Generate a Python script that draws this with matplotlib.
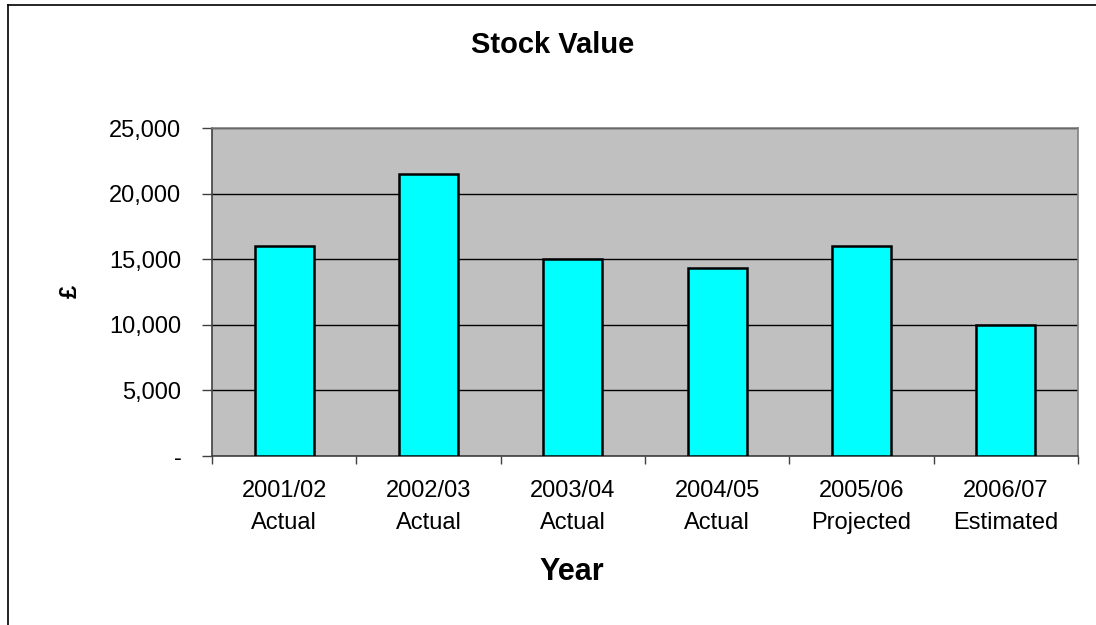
import matplotlib
matplotlib.use("Agg")
import matplotlib.pyplot as plt
from matplotlib.lines import Line2D

categories = ["2001/02\nActual", "2002/03\nActual", "2003/04\nActual",
              "2004/05\nActual", "2005/06\nProjected", "2006/07\nEstimated"]
values = [16000, 21500, 15000, 14300, 16000, 10000]
yticks = [0, 5000, 10000, 15000, 20000, 25000]
ytick_labels = ["-", "5,000", "10,000", "15,000", "20,000", "25,000"]

plt.rcParams['font.family'] = ['Liberation Sans', 'DejaVu Sans']

W, H = 1096, 625
fig = plt.figure(figsize=(W / 100, H / 100), dpi=100)
ax = fig.add_axes([212 / W, 1 - 456 / H, (1078 - 212) / W, (456 - 128) / H])
ax.set_facecolor("#c0c0c0")

x = list(range(len(categories)))
ax.bar(x, values, width=0.41, color="#00ffff", edgecolor="black", linewidth=1.8, zorder=3)

ax.set_xlim(-0.5, len(categories) - 0.5)
ax.set_ylim(0, 25000)
ax.set_yticks(yticks)
ax.set_yticklabels(ytick_labels, fontsize=17)
ax.yaxis.grid(True, color="black", linewidth=1.0, zorder=1)
ax.set_axisbelow(True)

ax.set_xticks(x)
ax.set_xticklabels(categories, fontsize=17, linespacing=1.6)
ax.tick_params(axis='x', length=0, pad=17)
ax.tick_params(axis='y', length=7, width=1, direction='out', pad=15, color="#404040")
ax.set_xticks([i - 0.5 for i in range(len(categories) + 1)], minor=True)
ax.tick_params(axis='x', which='minor', length=6, width=1, direction='out', color="#404040")

for side in ['top', 'right']:
    ax.spines[side].set_color("#808080")
    ax.spines[side].set_linewidth(1.2)
for side in ['left', 'bottom']:
    ax.spines[side].set_color("#404040")
    ax.spines[side].set_linewidth(1.2)

fig.text(553 / W, 1 - 45 / H, "Stock Value", ha='center', va='center',
         fontsize=21, fontweight='bold')
fig.text(572 / W, 1 - 572 / H, "Year", ha='center', va='center',
         fontsize=22, fontweight='bold')
fig.text(70 / W, 1 - 291 / H, "£", ha='center', va='center',
         fontsize=17, fontweight='bold', rotation=90)

# outer chart frame (left and top visible)
fig.add_artist(Line2D([8 / W, 8 / W], [0, 1 - 5 / H], color="black", linewidth=1.2,
                      transform=fig.transFigure))
fig.add_artist(Line2D([8 / W, 1], [1 - 5 / H, 1 - 5 / H], color="black", linewidth=1.2,
                      transform=fig.transFigure))

fig.savefig("out.png", dpi=100, facecolor="white")
